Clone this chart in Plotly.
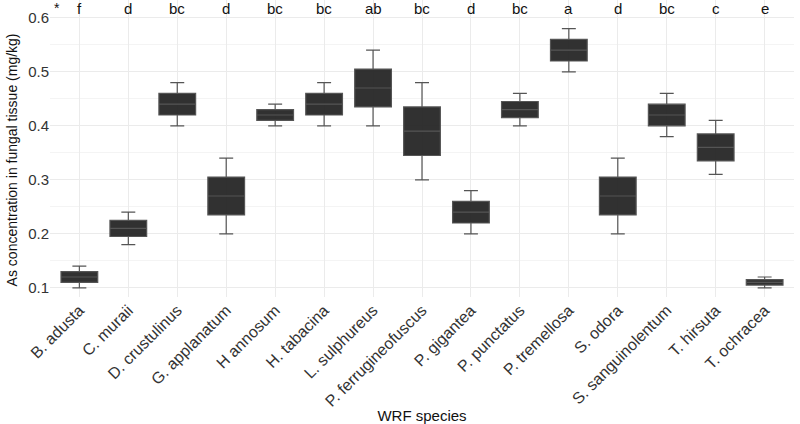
import plotly.graph_objects as go

species = ["B. adusta", "C. muraii", "D. crustulinus", "G. applanatum", "H annosum",
           "H. tabacina", "L. sulphureus", "P. ferrugineofuscus", "P. gigantea",
           "P. punctatus", "P. tremellosa", "S. odora", "S. sanguinolentum",
           "T. hirsuta", "T. ochracea"]
lower = [0.10, 0.18, 0.40, 0.20, 0.40, 0.40, 0.40, 0.30, 0.20, 0.40, 0.50, 0.20, 0.38, 0.31, 0.10]
q1 = [0.11, 0.195, 0.42, 0.235, 0.41, 0.42, 0.435, 0.345, 0.22, 0.415, 0.52, 0.235, 0.40, 0.335, 0.105]
median = [0.12, 0.21, 0.44, 0.27, 0.42, 0.44, 0.47, 0.39, 0.24, 0.43, 0.54, 0.27, 0.42, 0.36, 0.11]
q3 = [0.13, 0.225, 0.46, 0.305, 0.43, 0.46, 0.505, 0.435, 0.26, 0.445, 0.56, 0.305, 0.44, 0.385, 0.115]
upper = [0.14, 0.24, 0.48, 0.34, 0.44, 0.48, 0.54, 0.48, 0.28, 0.46, 0.58, 0.34, 0.46, 0.41, 0.12]
letters = ["f", "d", "bc", "d", "bc", "bc", "ab", "bc", "d", "bc", "a", "d", "bc", "c", "e"]

fig = go.Figure()
fig.add_trace(go.Box(
    x=species, q1=q1, median=median, q3=q3, lowerfence=lower, upperfence=upper,
    fillcolor="rgba(38,38,38,0.95)",
    line=dict(color="#555555", width=1.2),
    width=0.75, whiskerwidth=0.38, boxpoints=False, showlegend=False,
    hoverinfo="skip",
))

font = "Liberation Sans, Arial, sans-serif"
for s, l in zip(species, letters):
    fig.add_annotation(x=s, y=0.617, xref="x", yref="y", text=l, showarrow=False,
                       font=dict(family=font, size=15, color="#111"))
fig.add_annotation(x=-0.45, y=0.619, xref="x", yref="y", text="*", showarrow=False,
                   font=dict(family=font, size=14, color="#111"))
fig.add_annotation(x=0, y=0.46, xref="paper", yref="paper", xshift=-38,
                   xanchor="center", yanchor="middle",
                   text="As concentration in fungal tissue (mg/kg)", textangle=-90,
                   showarrow=False, font=dict(family=font, size=14, color="#111"))

fig.update_layout(
    width=800, height=424,
    margin=dict(l=50, r=6, t=0, b=127),
    plot_bgcolor="white", paper_bgcolor="white",
    font=dict(family=font, color="#222"),
    xaxis=dict(
        type="category", range=[-0.6, 14.6], tickangle=-45,
        tickfont=dict(size=16, color="#333"),
        showgrid=True, gridcolor="#ebebeb", gridwidth=1,
        title=dict(text="WRF species", font=dict(size=15, color="#111"), standoff=2),
        zeroline=False, showline=False, ticks="",
    ),
    yaxis=dict(
        range=[0.083, 0.633], dtick=0.1, tick0=0,
        tickfont=dict(size=15, color="#333"),
        showgrid=True, gridcolor="#ebebeb", gridwidth=1,
        minor=dict(dtick=0.05, showgrid=True, gridcolor="#f4f4f4", gridwidth=1),
        zeroline=False, showline=False, ticks="",
    ),
)

fig.write_html("out.html")
